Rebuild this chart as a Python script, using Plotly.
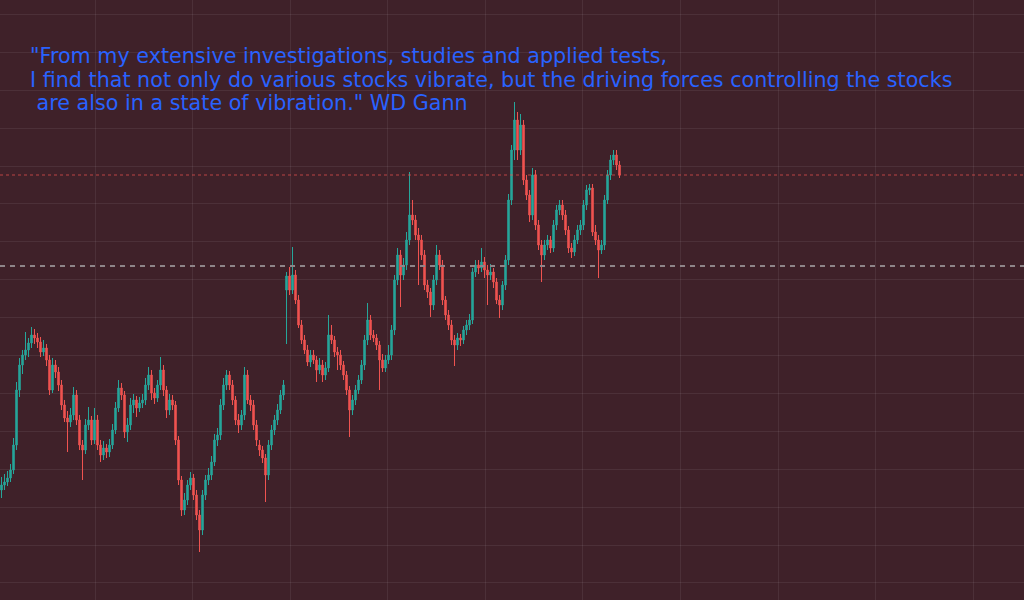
import plotly.graph_objects as go

# OHLC values (price units)
open_ = [11.0, 11.5, 11.8, 12.2, 13.0, 15.5, 21.0, 23.5, 24.5, 25.0,
         25.7, 26.5, 26.2, 25.8, 24.8, 25.2, 24.0, 21.0, 23.5, 22.8,
         21.5, 19.5, 18.2, 17.8, 18.5, 20.5, 18.0, 15.5, 15.0, 17.5,
         18.0, 16.0, 18.0, 15.5, 14.5, 15.2, 14.8, 15.5, 17.0, 19.2,
         21.2, 20.5, 16.8, 17.5, 19.5, 20.0, 19.2, 19.7, 20.0, 21.5,
         22.5, 20.7, 20.2, 21.5, 23.0, 21.0, 19.0, 20.0, 19.5, 16.0,
         12.0, 9.0, 10.0, 11.5, 12.2, 10.5, 8.5, 7.0, 10.5, 12.0,
         12.5, 13.8, 16.0, 16.5, 19.5, 21.5, 22.5, 21.5, 20.0, 18.0,
         17.5, 18.5, 22.5, 20.0, 19.5, 17.5, 15.5, 15.0, 14.2, 12.5,
         15.5, 17.0, 18.0, 19.0, 20.5, 31.0, 32.4, 31.0, 32.5, 30.0,
         27.5, 26.0, 25.0, 23.8, 24.5, 24.0, 23.0, 23.5, 22.5, 23.2,
         26.5, 26.0, 24.8, 24.5, 23.5, 22.5, 21.0, 19.0, 20.0, 21.0,
         22.0, 23.5, 26.0, 28.0, 26.5, 26.2, 25.5, 24.0, 23.2, 24.0,
         24.5, 27.0, 32.0, 34.5, 32.5, 33.5, 36.0, 38.5, 38.0, 36.5,
         36.0, 34.5, 31.5, 30.8, 29.5, 32.0, 34.5, 33.5, 30.0, 28.5,
         27.5, 26.0, 25.5, 26.2, 26.0, 27.0, 27.5, 28.0, 32.8, 33.5,
         33.2, 33.8, 33.0, 32.5, 32.8, 31.8, 30.0, 29.5, 31.5, 34.0,
         40.0, 45.0, 48.0, 45.0, 47.5, 42.0, 40.5, 38.5, 42.5, 37.5,
         35.5, 34.5, 35.5, 36.0, 35.2, 37.5, 39.0, 39.5, 38.5, 37.0,
         35.2, 34.8, 36.0, 37.0, 37.5, 39.5, 41.0, 41.2, 36.8, 36.0,
         35.0, 35.5, 40.0, 42.5, 44.0, 44.5, 43.5]

high = [12.3, 12.6, 12.9, 13.6, 16.2, 21.8, 24.2, 25.0, 26.8, 26.2,
        27.3, 27.1, 26.7, 26.3, 26.0, 25.6, 24.5, 24.2, 24.0, 23.3,
        22.0, 20.0, 18.9, 19.2, 21.3, 21.0, 18.5, 16.0, 18.1, 19.3,
        18.4, 19.2, 18.5, 16.0, 15.9, 15.6, 16.1, 17.6, 19.8, 22.0,
        21.7, 20.9, 18.2, 20.2, 20.6, 20.4, 20.3, 20.6, 22.2, 23.3,
        23.0, 21.2, 22.0, 24.3, 23.5, 21.4, 20.6, 20.5, 19.9, 16.4,
        12.4, 10.7, 12.0, 12.8, 12.6, 11.0, 9.0, 11.0, 12.5, 13.2,
        14.4, 16.6, 17.2, 20.1, 22.2, 23.0, 22.9, 22.0, 20.4, 18.6,
        19.0, 23.3, 23.0, 20.5, 20.0, 18.0, 16.0, 15.4, 14.6, 16.0,
        17.5, 18.5, 19.6, 21.0, 22.0, 32.8, 33.3, 35.3, 33.0, 30.5,
        28.0, 26.5, 25.5, 25.0, 25.0, 24.4, 24.2, 24.0, 23.8, 28.5,
        27.5, 26.4, 25.3, 25.0, 23.9, 22.9, 21.4, 20.5, 21.5, 22.5,
        24.0, 26.5, 29.7, 28.5, 27.0, 26.6, 25.9, 24.6, 24.5, 25.5,
        27.5, 32.5, 35.2, 35.0, 34.2, 36.8, 42.8, 40.0, 38.5, 37.2,
        36.5, 35.0, 32.0, 31.2, 32.5, 35.5, 35.0, 34.0, 30.4, 29.0,
        28.0, 26.5, 26.7, 26.6, 27.4, 28.0, 28.6, 33.2, 34.0, 34.0,
        35.2, 34.3, 33.5, 33.6, 33.2, 32.2, 30.5, 31.9, 34.5, 40.6,
        45.5, 49.8, 48.8, 48.6, 48.0, 42.5, 41.0, 43.2, 43.0, 38.0,
        36.0, 36.0, 36.5, 36.4, 38.0, 39.5, 40.0, 40.0, 39.0, 37.4,
        35.7, 36.5, 37.5, 38.0, 40.0, 41.5, 41.6, 41.6, 37.5, 36.5,
        36.0, 40.5, 43.0, 44.5, 45.0, 45.0, 43.9]

low = [10.2, 11.0, 11.4, 11.8, 12.6, 15.0, 20.3, 22.6, 24.0, 24.3,
       25.2, 25.6, 25.2, 24.3, 24.4, 23.4, 20.5, 20.7, 22.2, 20.9,
       19.0, 17.8, 14.8, 17.3, 18.0, 17.5, 15.0, 12.0, 14.6, 17.0,
       15.5, 15.6, 15.0, 13.8, 14.0, 14.2, 14.3, 15.1, 16.6, 18.8,
       20.0, 16.2, 15.8, 17.0, 18.7, 18.3, 18.8, 19.2, 19.5, 21.0,
       20.0, 19.6, 19.8, 21.0, 20.4, 18.2, 18.5, 19.0, 15.5, 11.5,
       8.4, 8.5, 9.5, 11.0, 10.0, 8.0, 4.8, 6.5, 10.0, 11.5,
       12.0, 13.4, 15.4, 16.0, 19.0, 21.0, 21.0, 19.5, 17.5, 16.7,
       17.0, 18.0, 19.6, 18.9, 17.0, 15.4, 14.4, 13.7, 9.8, 12.0,
       15.0, 16.5, 17.5, 18.6, 20.0, 25.6, 30.5, 30.6, 29.6, 27.2,
       25.6, 24.6, 23.4, 23.3, 23.6, 21.8, 22.6, 21.8, 22.0, 22.8,
       25.6, 24.3, 23.0, 23.0, 22.0, 20.5, 16.3, 18.5, 19.5, 20.6,
       21.6, 23.0, 25.5, 26.0, 25.8, 25.0, 21.0, 22.8, 22.8, 23.6,
       24.0, 26.5, 31.5, 29.3, 32.0, 33.0, 35.5, 37.5, 36.0, 31.5,
       34.0, 31.0, 30.2, 28.3, 29.0, 31.5, 33.0, 29.5, 28.0, 27.0,
       25.5, 23.4, 25.0, 25.4, 25.6, 26.5, 27.0, 27.6, 32.3, 32.6,
       32.8, 32.2, 29.5, 32.0, 31.2, 29.6, 28.2, 29.0, 31.0, 33.5,
       39.5, 44.0, 44.0, 44.5, 41.5, 40.0, 37.8, 38.0, 37.0, 35.0,
       31.8, 34.0, 35.0, 34.7, 34.8, 37.0, 38.5, 38.0, 36.5, 34.7,
       34.2, 34.4, 35.6, 36.5, 37.0, 39.0, 40.5, 36.4, 35.5, 32.2,
       34.6, 35.0, 39.6, 42.0, 43.5, 43.0, 42.2]

close = [11.5, 11.8, 12.2, 13.0, 15.5, 21.0, 23.5, 24.5, 25.0, 25.7,
         26.5, 26.2, 25.8, 24.8, 25.2, 24.0, 21.0, 23.5, 22.8, 21.5,
         19.5, 18.2, 17.8, 18.5, 20.5, 18.0, 15.5, 15.0, 17.5, 18.0,
         16.0, 18.0, 15.5, 14.5, 15.2, 14.8, 15.5, 17.0, 19.2, 21.2,
         20.5, 16.8, 17.5, 19.5, 20.0, 19.2, 19.7, 20.0, 21.5, 22.5,
         20.7, 20.2, 21.5, 23.0, 21.0, 19.0, 20.0, 19.5, 16.0, 12.0,
         9.0, 10.0, 11.5, 12.2, 10.5, 8.5, 7.0, 10.5, 12.0, 12.5,
         13.8, 16.0, 16.5, 19.5, 21.5, 22.5, 21.5, 20.0, 18.0, 17.5,
         18.5, 22.5, 20.0, 19.5, 17.5, 16.0, 15.0, 14.2, 12.5, 15.5,
         17.0, 18.0, 19.0, 20.5, 21.5, 32.4, 31.0, 32.5, 30.0, 27.5,
         26.0, 25.0, 23.8, 24.5, 24.0, 23.0, 23.5, 22.5, 23.2, 26.5,
         26.0, 24.8, 24.5, 23.5, 22.5, 21.0, 19.0, 20.0, 21.0, 22.0,
         23.5, 26.0, 28.0, 26.5, 26.2, 25.5, 24.0, 23.2, 24.0, 24.5,
         27.0, 32.0, 34.5, 32.5, 33.5, 36.0, 38.5, 38.0, 36.5, 36.0,
         34.5, 31.5, 30.8, 29.5, 32.0, 34.5, 33.5, 30.0, 28.5, 27.5,
         26.0, 25.5, 26.2, 26.0, 27.0, 27.5, 28.0, 32.8, 33.5, 33.2,
         33.8, 33.0, 32.5, 32.8, 31.8, 30.0, 29.5, 31.5, 34.0, 40.0,
         45.0, 48.0, 45.0, 47.5, 42.0, 40.5, 38.5, 42.5, 37.5, 35.5,
         34.5, 35.5, 36.0, 35.2, 37.5, 39.0, 39.5, 38.5, 37.0, 35.2,
         34.8, 36.0, 37.0, 37.5, 39.5, 41.0, 41.2, 36.8, 36.0, 35.0,
         35.5, 40.0, 42.5, 44.0, 44.5, 43.5, 42.5]

bar_index = list(range(len(close)))

last_price = close[-1]          # dotted red line
level_line = 33.4               # dashed grey line

quote_lines = [
    "\"From my extensive investigations, studies and applied tests,",
    "I find that not only do various stocks vibrate, but the driving forces controlling the stocks",
    "\u00a0are also in a state of vibration.\" WD Gann",
]

UP = "#26a69a"
DOWN = "#ef5350"
BG = "#3f2129"
GRID = "rgba(255,255,255,0.07)"

fig = go.Figure()
fig.add_trace(go.Candlestick(
    x=bar_index, open=open_, high=high, low=low, close=close,
    increasing=dict(line=dict(color=UP, width=1), fillcolor=UP),
    decreasing=dict(line=dict(color=DOWN, width=1), fillcolor=DOWN),
    whiskerwidth=0, hoverinfo="skip", showlegend=False,
))

fig.add_hline(y=last_price, line=dict(color="rgba(239,83,80,0.7)", width=1, dash="dot"))
fig.add_hline(y=level_line, line=dict(color="#8f8589", width=2, dash="5px,5px"))

line_centers_px = [56, 80, 103]
for txt, cy in zip(quote_lines, line_centers_px):
    fig.add_annotation(
        text=txt,
        xref="paper", yref="paper", x=28 / 1024, y=1 - cy / 600,
        xanchor="left", yanchor="middle", align="left", showarrow=False,
        font=dict(family="DejaVu Sans", size=20.7, color="#2962ff"),
    )

n_px_w = 1024
fig.update_layout(
    width=1024, height=600,
    margin=dict(l=0, r=0, t=0, b=0),
    paper_bgcolor=BG, plot_bgcolor=BG,
    xaxis=dict(range=[-0.5, -0.5 + n_px_w / 3], showticklabels=False, zeroline=False,
               showgrid=True, gridcolor=GRID, gridwidth=1,
               tick0=31.17, dtick=32.53, rangeslider=dict(visible=False), fixedrange=True),
    yaxis=dict(range=[0, 60], showticklabels=False, zeroline=False,
               showgrid=True, gridcolor=GRID, gridwidth=1,
               tick0=43.4, dtick=3.79, fixedrange=True),
)

fig.write_html(
    "out.html",
    config={"displayModeBar": False},
    post_script="document.body.style.margin='0';document.body.style.overflow='hidden';"
                "document.body.style.background='" + BG + "';",
)
